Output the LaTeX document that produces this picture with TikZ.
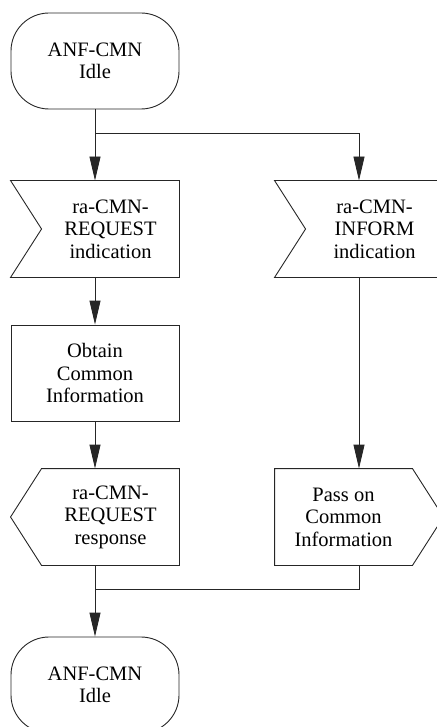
\documentclass[tikz,border=0pt]{standalone}
\usepackage{fontspec}
\setmainfont{Liberation Serif}
\usetikzlibrary{arrows.meta}

\begin{document}
\begin{tikzpicture}[x=1pt, y=1pt, font=\fontsize{20.5}{22.5}\selectfont,
  every node/.style={align=center, minimum height=96pt, inner sep=0pt},
  state/.style={draw, rounded corners=38pt, minimum width=168pt},
  task/.style={draw, minimum width=168pt},
  sigbody/.style={minimum width=137pt},
  flow/.style={-{Triangle[length=24pt,width=11pt]}},
  line width=0.9pt, draw=black!85]
\useasboundingbox (0,0) rectangle (436,-727);
\coordinate (lcol) at (95,0);
\coordinate (rcol) at (359,0);

\node[state] (idle) at (95,-61) {ANF-CMN\\Idle};
\node[sigbody] (reqind) at (110.5,-229) {ra-CMN-\\REQUEST\\indication};
\node[sigbody] (infoind) at (374.5,-229) {ra-CMN-\\INFORM\\indication};
\node[task] (obtain) at (95,-373) {Obtain\\Common\\Information};
\node[sigbody] (reqresp) at (110.5,-517) {ra-CMN-\\REQUEST\\response};
\node[sigbody] (passon) at (343.5,-517) {Pass on\\Common\\Information};
\node[state] (idle2) at (95,-685) {ANF-CMN\\Idle};

% signal outlines
\draw (reqind.north east) -- ([xshift=-31pt]reqind.north west) -- (reqind.west)
  -- ([xshift=-31pt]reqind.south west) -- (reqind.south east) -- cycle;
\draw (infoind.north east) -- ([xshift=-31pt]infoind.north west) -- (infoind.west)
  -- ([xshift=-31pt]infoind.south west) -- (infoind.south east) -- cycle;
\draw (reqresp.north east) -- (reqresp.north west) -- ([xshift=-31pt]reqresp.west)
  -- (reqresp.south west) -- (reqresp.south east) -- cycle;
\draw (passon.north west) -- (passon.north east) -- ([xshift=31pt]passon.east)
  -- (passon.south east) -- (passon.south west) -- cycle;

% connectors
\coordinate (split) at ([yshift=-24pt]idle.south);
\coordinate (join) at ([yshift=-24pt]reqresp.south -| lcol);
\draw[flow] (idle.south) -- (reqind.north -| lcol);
\draw[flow] (split) -| (infoind.north -| rcol);
\draw[flow] (reqind.south -| lcol) -- (obtain.north);
\draw[flow] (obtain.south) -- (reqresp.north -| lcol);
\draw[flow] (infoind.south -| rcol) -- (passon.north -| rcol);
\draw[flow] (reqresp.south -| lcol) -- (idle2.north);
\draw (passon.south -| rcol) |- (join);
\end{tikzpicture}
\end{document}
